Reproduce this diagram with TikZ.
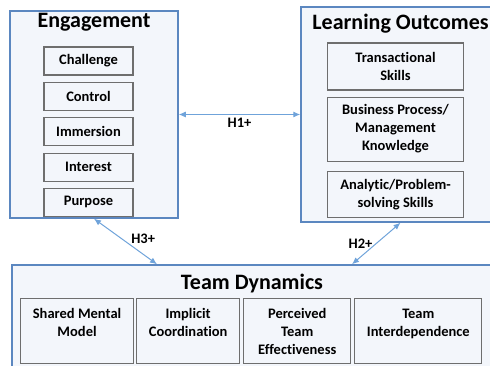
\documentclass[tikz,border=0pt]{standalone}
\usepackage{fontspec}
\setmainfont{Carlito}[Ligatures=NoCommon]
\usepackage{tikz}
\usetikzlibrary{positioning}
\usetikzlibrary{arrows.meta}
\usepackage{xcolor}
\definecolor{boxblue}{HTML}{5B87C0}
\definecolor{boxfill}{HTML}{F3F6FB}
\definecolor{linkblue}{HTML}{6FA3DA}
\definecolor{factorgray}{HTML}{6E6E6E}

\begin{document}
\begin{tikzpicture}[x=1pt,y=1pt,
  group/.style={rectangle,draw=boxblue,line width=1.5pt,fill=boxfill},
  grouptitle/.style={font=\bfseries\fontsize{22}{26}\selectfont,inner sep=3pt},
  factor/.style={rectangle,draw=factorgray,line width=1.1pt,fill=boxfill,font=\bfseries\fontsize{14.5}{18}\selectfont,align=center,inner sep=0pt},
  teamfactor/.style={factor,align=flush center,inner xsep=2pt,text height=19.5pt,text depth=45.5pt},
  link/.style={draw=linkblue,line width=1pt,{Latex[length=7pt,width=6pt]}-{Latex[length=7pt,width=6pt]}},
  hlabel/.style={font=\bfseries\fontsize{14.5}{18}\selectfont}]
\path [use as bounding box,clip] (0,0) rectangle (490,-366);

\node [group,minimum width=168pt,minimum height=207pt] (engagement) at (94,-114.5) {};
\node [group,minimum width=199pt,minimum height=215pt] (learning) at (400.5,-114.5) {};
\node [group,minimum width=480pt,minimum height=115pt] (team) at (252,-322.5) {};

\node [grouptitle,anchor=north] (engtitle) at (engagement.north) {Engagement};
\node [grouptitle,anchor=north,yshift=-5pt] (learntitle) at (learning.north) {Learning Outcomes};
\node [grouptitle,anchor=north,yshift=-7pt] (teamtitle) at (team.north) {Team Dynamics};

\node [factor,minimum width=89pt,minimum height=28pt] (challenge) at (88.5,-61) {Challenge};
\node [factor,minimum width=89pt,minimum height=28pt,below=6pt of challenge] (control) {Control};
\node [factor,minimum width=89pt,minimum height=28pt,below=6pt of control] (immersion) {Immersion};
\node [factor,minimum width=89pt,minimum height=28pt,below=7pt of immersion] (interest) {Interest};
\node [factor,minimum width=89pt,minimum height=28pt,below=6pt of interest] (purpose) {Purpose};

\node [factor,minimum width=136pt,minimum height=47pt] (transactional) at (395.5,-66.5) {Transactional\\Skills};
\node [factor,minimum width=136pt,minimum height=64pt,below=6pt of transactional] (business) {Business Process/\\Management\\Knowledge};
\node [factor,minimum width=136pt,minimum height=46pt,below=9pt of business] (analytic) {Analytic/Problem-\\solving Skills};

\node [teamfactor,text width=109pt,anchor=north west] (shared) at (20,-298) {Shared Mental\\Model};
\node [teamfactor,text width=99pt,right=2pt of shared] (implicit) {Implicit\\Coordination};
\node [teamfactor,text width=103pt,right=3pt of implicit] (perceived) {Perceived\\Team\\Effectiveness};
\node [teamfactor,text width=123pt,right=3pt of perceived] (interdependence) {Team\\Interdependence};

\draw [link] (engagement.east) -- node [hlabel,below] (h1) {H1+} (learning.west);
\draw [link] (engagement.south) -- node [hlabel,right,xshift=2pt,yshift=3pt] (h3) {H3+} ([xshift=-95pt]team.north);
\draw [link] (learning.south) -- node [hlabel,left] (h2) {H2+} ([xshift=100pt]team.north);
\end{tikzpicture}
\end{document}
